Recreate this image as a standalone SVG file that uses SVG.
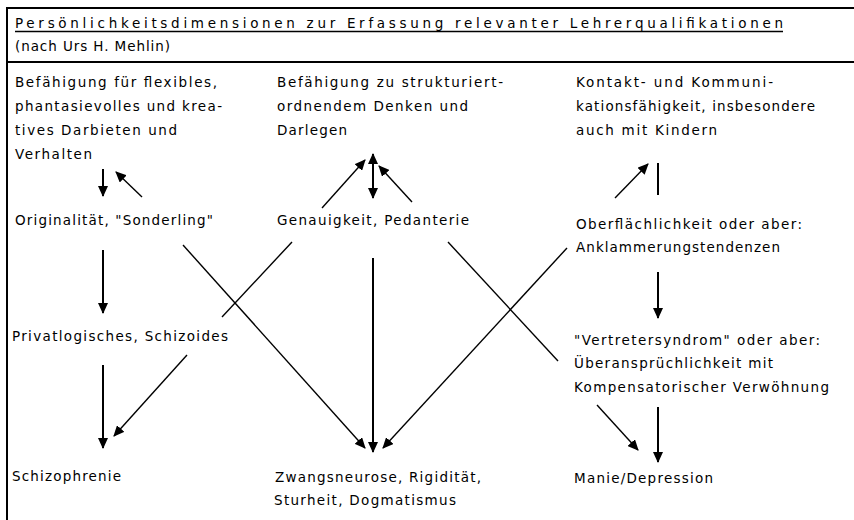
<svg xmlns="http://www.w3.org/2000/svg" width="854" height="520" viewBox="0 0 854 520">
<defs>
<style>
text{font-family:"DejaVu Sans","Liberation Sans",sans-serif;font-size:13.5px;fill:#000;}
.frame{stroke:#000;stroke-width:2;fill:none;}
.c{stroke:#000;fill:none;stroke-width:1.4;}
.b{stroke-width:2;}
.a{marker-end:url(#ah);}
</style>
<marker id="ah" viewBox="0 0 11 10" refX="10" refY="5" markerWidth="11" markerHeight="10" markerUnits="userSpaceOnUse" orient="auto-start-reverse">
<path d="M0,0 L11,5 L0,10 z" fill="#000"/>
</marker>
</defs>
<rect width="854" height="520" fill="#fff"/>
<g id="frame">
<line class="frame" x1="7" y1="8" x2="854" y2="8"/>
<line class="frame" x1="7" y1="7" x2="7" y2="520"/>
<line class="frame" x1="7" y1="62" x2="854" y2="62"/>
</g>
<g id="title">
<text x="15" y="28" textLength="768" lengthAdjust="spacing">Persönlichkeitsdimensionen zur Erfassung relevanter Lehrerqualifikationen</text>
<line x1="15" y1="31.5" x2="783" y2="31.5" stroke="#000" stroke-width="1.5"/>
<text x="15" y="51" textLength="155" lengthAdjust="spacing">(nach Urs H. Mehlin)</text>
</g>
<g id="n1">
<text x="15" y="87" textLength="202" lengthAdjust="spacing">Befähigung für flexibles,</text>
<text x="15" y="111" textLength="207" lengthAdjust="spacing">phantasievolles und krea-</text>
<text x="15" y="135" textLength="162" lengthAdjust="spacing">tives Darbieten und</text>
<text x="15" y="159" textLength="77" lengthAdjust="spacing">Verhalten</text>
</g>
<g id="n2">
<text x="277" y="87" textLength="226" lengthAdjust="spacing">Befähigung zu strukturiert-</text>
<text x="277" y="111" textLength="191" lengthAdjust="spacing">ordnendem Denken und</text>
<text x="277" y="135" textLength="70" lengthAdjust="spacing">Darlegen</text>
</g>
<g id="n3">
<text x="576" y="87" textLength="197" lengthAdjust="spacing">Kontakt- und Kommuni-</text>
<text x="576" y="111" textLength="239" lengthAdjust="spacing">kationsfähigkeit, insbesondere</text>
<text x="576" y="135" textLength="141" lengthAdjust="spacing">auch mit Kindern</text>
</g>
<g id="n4">
<text x="15" y="225" textLength="198" lengthAdjust="spacing">Originalität, "Sonderling"</text>
</g>
<g id="n5">
<text x="277" y="225" textLength="192" lengthAdjust="spacing">Genauigkeit, Pedanterie</text>
</g>
<g id="n6">
<text x="576" y="229" textLength="226" lengthAdjust="spacing">Oberflächlichkeit oder aber:</text>
<text x="576" y="252" textLength="204" lengthAdjust="spacing">Anklammerungstendenzen</text>
</g>
<g id="n7">
<text x="12" y="341" textLength="216" lengthAdjust="spacing">Privatlogisches, Schizoides</text>
</g>
<g id="n8">
<text x="574" y="345" textLength="246" lengthAdjust="spacing">"Vertretersyndrom" oder aber:</text>
<text x="574" y="368" textLength="199" lengthAdjust="spacing">Überansprüchlichkeit mit</text>
<text x="574" y="392" textLength="255" lengthAdjust="spacing">Kompensatorischer Verwöhnung</text>
</g>
<g id="n9">
<text x="12" y="481" textLength="109" lengthAdjust="spacing">Schizophrenie</text>
</g>
<g id="n10">
<text x="275" y="482" textLength="206" lengthAdjust="spacing">Zwangsneurose, Rigidität,</text>
<text x="274" y="505" textLength="182" lengthAdjust="spacing">Sturheit, Dogmatismus</text>
</g>
<g id="n11">
<text x="574" y="483" textLength="139" lengthAdjust="spacing">Manie/Depression</text>
</g>
<g id="connectors">
<line class="c b a" x1="103" y1="169" x2="103" y2="196"/>
<line class="c a" x1="142" y1="197" x2="116" y2="172"/>
<line class="c b a" x1="103" y1="250" x2="103" y2="313"/>
<line class="c b a" x1="103" y1="365" x2="103" y2="448"/>
<line class="c a" x1="187" y1="355" x2="114" y2="436"/>
<line class="c a" x1="183" y1="245" x2="365" y2="448"/>
<line class="c" x1="222" y1="317" x2="292" y2="242"/>
<line class="c a" x1="322" y1="208" x2="365" y2="160"/>
<line class="c b a" x1="373" y1="154" x2="373" y2="198" style="marker-start:url(#ah)"/>
<line class="c a" x1="412" y1="202" x2="379" y2="166"/>
<line class="c b a" x1="373" y1="258" x2="373" y2="452"/>
<line class="c" x1="448" y1="242" x2="558" y2="361"/>
<line class="c a" x1="567" y1="248" x2="383" y2="448"/>
<line class="c a" x1="615" y1="198" x2="648" y2="164"/>
<line class="c b" x1="658" y1="163" x2="658" y2="195"/>
<line class="c b a" x1="658" y1="272" x2="658" y2="318"/>
<line class="c b a" x1="658" y1="407" x2="658" y2="462"/>
<line class="c a" x1="597" y1="405" x2="638" y2="450"/>
</g>
</svg>
